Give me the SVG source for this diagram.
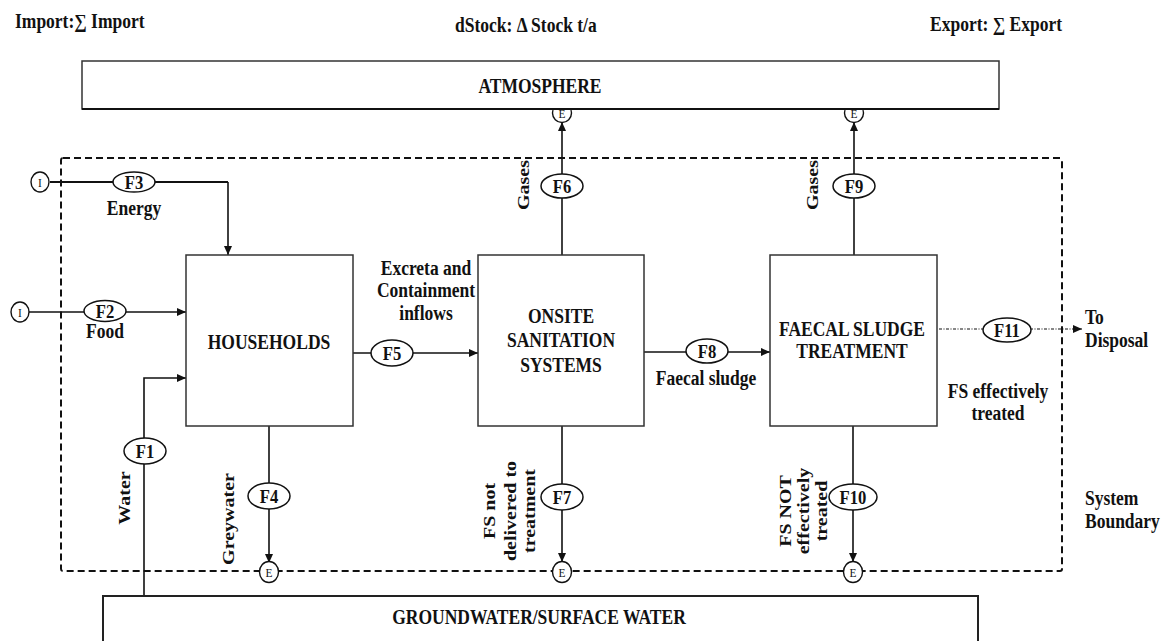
<svg xmlns="http://www.w3.org/2000/svg" width="1164" height="641" viewBox="0 0 1164 641">
<style>
.t{font-family:"Liberation Serif","Times New Roman",serif;font-weight:bold;font-size:20px;fill:#111;text-anchor:middle}
.s{text-anchor:start}
.f{font-size:19px}
.c{font-family:"Liberation Serif","Times New Roman",serif;font-size:13px;fill:#111;text-anchor:middle}
.r{dominant-baseline:central}
.box{fill:#fff;stroke:#333;stroke-width:1.5}
.env{fill:#fff;stroke:#222;stroke-width:2}
.ell{fill:#fff;stroke:#111;stroke-width:1.5}
.cir{fill:#fff;stroke:#111;stroke-width:1.4}
.ln{fill:none;stroke:#111;stroke-width:1.6}
.bd{fill:none;stroke:#111;stroke-width:2;stroke-dasharray:7 4}
</style>
<defs>
<marker id="ar" markerUnits="userSpaceOnUse" markerWidth="9" markerHeight="8" viewBox="0 0 9 8" refX="9" refY="4" orient="auto">
<path d="M0,0 L9,4 L0,8 z" fill="#111"/>
</marker>
</defs>
<rect width="1164" height="641" fill="#fff"/>

<g id="headers">
<text class="t s" transform="translate(15,28) scale(.875,1)">Import:∑ Import</text>
<text class="t s" transform="translate(455,32) scale(.875,1)">dStock: Δ Stock t/a</text>
<text class="t s" transform="translate(930,31) scale(.875,1)">Export: ∑ Export</text>
</g>

<g id="system-boundary">
<rect class="bd" x="61" y="158" width="1001" height="413" rx="2"/>
<text class="t s" transform="translate(1085,505) scale(.875,1)"><tspan x="0">System</tspan><tspan x="0" dy="23">Boundary</tspan></text>
</g>

<g id="connectors">
<path class="ln" d="M50,182 H228" style="stroke-width:2.2"/>
<path class="ln" d="M228,182 V255" marker-end="url(#ar)"/>
<path class="ln" d="M29,312 H186" marker-end="url(#ar)"/>
<path class="ln" d="M144,596 V378 H186" marker-end="url(#ar)"/>
<path class="ln" d="M269,426 V563" marker-end="url(#ar)"/>
<path class="ln" d="M353,353 H478" marker-end="url(#ar)"/>
<path class="ln" d="M562,255 V122" marker-end="url(#ar)"/>
<path class="ln" d="M562,426 V562" marker-end="url(#ar)"/>
<path class="ln" d="M644,352 H770" marker-end="url(#ar)"/>
<path class="ln" d="M854,255 V122" marker-end="url(#ar)"/>
<path class="ln" d="M853,426 V562" marker-end="url(#ar)"/>
<path class="ln" d="M939,329 H1082" style="stroke-width:1.2;stroke-dasharray:3 1.5 1 1.5" marker-end="url(#ar)"/>
</g>

<g id="I-energy"><ellipse class="cir" cx="40" cy="182" rx="9" ry="10"/><text class="c" transform="translate(40,187) scale(.875,1)">I</text></g>
<g id="I-food"><ellipse class="cir" cx="20" cy="312" rx="9" ry="10"/><text class="c" transform="translate(20,317) scale(.875,1)">I</text></g>

<g id="E-F6"><circle class="cir" cx="562" cy="113" r="9.5"/><text class="c" transform="translate(562,118) scale(.875,1)">E</text></g>
<g id="E-F9"><circle class="cir" cx="854" cy="113" r="9.5"/><text class="c" transform="translate(854,118) scale(.875,1)">E</text></g>
<g id="E-F4"><ellipse class="cir" cx="269" cy="572" rx="9.5" ry="10.5"/><text class="c" transform="translate(269,577) scale(.875,1)">E</text></g>
<g id="E-F7"><ellipse class="cir" cx="562" cy="572" rx="9.5" ry="10.5"/><text class="c" transform="translate(562,577) scale(.875,1)">E</text></g>
<g id="E-F10"><ellipse class="cir" cx="853" cy="572" rx="9.5" ry="10.5"/><text class="c" transform="translate(853,577) scale(.875,1)">E</text></g>

<g id="atmosphere">
<rect class="box" x="82" y="61" width="917" height="48"/>
<line x1="82" y1="109" x2="999" y2="109" stroke="#111" stroke-width="2"/>
<text class="t" transform="translate(540,93) scale(.875,1)">ATMOSPHERE</text>
</g>

<g id="groundwater">
<rect class="env" x="103" y="596" width="875" height="60"/>
<text class="t" transform="translate(539,624) scale(.875,1)">GROUNDWATER/SURFACE WATER</text>
</g>

<g id="households">
<rect class="box" x="186" y="255" width="167" height="171"/>
<text class="t" transform="translate(269,349) scale(.875,1)">HOUSEHOLDS</text>
</g>

<g id="onsite">
<rect class="box" x="478" y="255" width="166" height="171"/>
<text class="t" transform="translate(561,323) scale(.875,1)"><tspan x="0">ONSITE</tspan><tspan x="0" dy="24.5">SANITATION</tspan><tspan x="0" dy="24.5">SYSTEMS</tspan></text>
</g>

<g id="treatment">
<rect class="box" x="770" y="255" width="167" height="171"/>
<text class="t" transform="translate(852,336) scale(.875,1)"><tspan x="0">FAECAL SLUDGE</tspan><tspan x="0" dy="22.5">TREATMENT</tspan></text>
</g>

<g id="F1"><ellipse class="ell" cx="145" cy="451" rx="21" ry="13"/><text class="t f" transform="translate(145,457.5) scale(.875,1)">F1</text></g>
<g id="F2"><ellipse class="ell" cx="105" cy="311" rx="21" ry="10.5"/><text class="t f" transform="translate(105,317.5) scale(.875,1)">F2</text></g>
<g id="F3"><ellipse class="ell" cx="134" cy="182" rx="21" ry="10"/><text class="t f" transform="translate(134,188.5) scale(.875,1)">F3</text></g>
<g id="F4"><ellipse class="ell" cx="269" cy="496" rx="21" ry="13"/><text class="t f" transform="translate(269,502.5) scale(.875,1)">F4</text></g>
<g id="F5"><ellipse class="ell" cx="392" cy="353" rx="21" ry="13"/><text class="t f" transform="translate(392,359.5) scale(.875,1)">F5</text></g>
<g id="F6"><ellipse class="ell" cx="562" cy="186" rx="21" ry="12"/><text class="t f" transform="translate(562,192.5) scale(.875,1)">F6</text></g>
<g id="F7"><ellipse class="ell" cx="562" cy="497" rx="21" ry="13"/><text class="t f" transform="translate(562,503.5) scale(.875,1)">F7</text></g>
<g id="F8"><ellipse class="ell" cx="707" cy="351" rx="21" ry="12"/><text class="t f" transform="translate(707,357.5) scale(.875,1)">F8</text></g>
<g id="F9"><ellipse class="ell" cx="854" cy="186" rx="21" ry="12"/><text class="t f" transform="translate(854,192.5) scale(.875,1)">F9</text></g>
<g id="F10"><ellipse class="ell" cx="853" cy="497" rx="24" ry="13"/><text class="t f" transform="translate(853,503.5) scale(.875,1)">F10</text></g>
<g id="F11"><ellipse class="ell" cx="1007" cy="330" rx="24" ry="12"/><text class="t f" transform="translate(1007,336.5) scale(.875,1)">F11</text></g>

<g id="labels">
<text class="t" transform="translate(134,215) scale(.875,1)">Energy</text>
<text class="t" transform="translate(105,338) scale(.875,1)">Food</text>
<text class="t" transform="translate(426,275) scale(.875,1)"><tspan x="0">Excreta and</tspan><tspan x="0" dy="22.5">Containment</tspan><tspan x="0" dy="22.5">inflows</tspan></text>
<text class="t" transform="translate(706,385) scale(.875,1)">Faecal sludge</text>
<text class="t s" transform="translate(1085,324) scale(.875,1)"><tspan x="0">To</tspan><tspan x="0" dy="23">Disposal</tspan></text>
<text class="t" transform="translate(998,398) scale(.875,1)"><tspan x="0">FS effectively</tspan><tspan x="0" dy="22">treated</tspan></text>
<g transform="translate(523,185) scale(.875,1) rotate(-90)"><text class="t r">Gases</text></g>
<g transform="translate(812,185) scale(.875,1) rotate(-90)"><text class="t r">Gases</text></g>
<g transform="translate(124,498) scale(.875,1) rotate(-90)"><text class="t r">Water</text></g>
<g transform="translate(228,519) scale(.875,1) rotate(-90)"><text class="t r">Greywater</text></g>
<g transform="translate(510,511) scale(.875,1) rotate(-90)"><text class="t r" y="-24">FS not</text><text class="t r">delivered to</text><text class="t r" y="22">treatment</text></g>
<g transform="translate(803,511) scale(.875,1) rotate(-90)"><text class="t r" y="-21">FS NOT</text><text class="t r">effectively</text><text class="t r" y="21">treated</text></g>
</g>
</svg>
